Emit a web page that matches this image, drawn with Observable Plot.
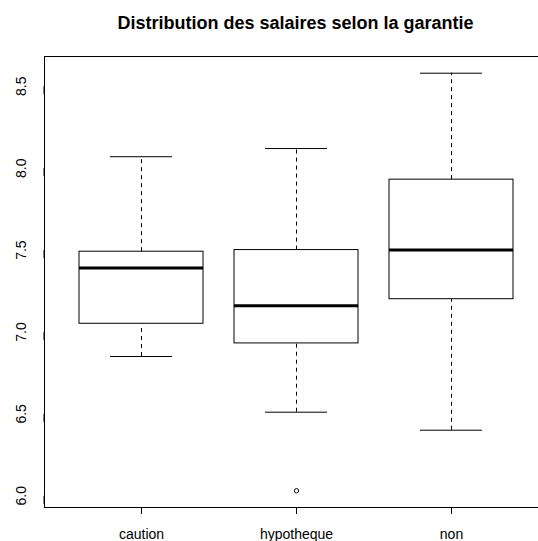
<!DOCTYPE html>
<html><head><meta charset="utf-8">
<script src="https://cdn.jsdelivr.net/npm/d3@7"></script>
<script src="https://cdn.jsdelivr.net/npm/@observablehq/plot@0.6"></script>
<style>body{margin:0;background:#fff;overflow:hidden;} svg{font-family:"Liberation Sans",Arial,sans-serif;}</style>
</head><body><div id="chart"></div>
<script>
const title = "Distribution des salaires selon la garantie";
const categories = ["caution", "hypotheque", "non"];
const lowerWhisker = [6.85, 6.51, 6.40];
const q1 = [7.05, 6.93, 7.20];
const median = [7.39, 7.16, 7.50];
const q3 = [7.49, 7.50, 7.93];
const upperWhisker = [8.07, 8.12, 8.58];
const outlierCategory = ["hypotheque"];
const outlierValue = [6.03];
const yTicks = [6.0, 6.5, 7.0, 7.5, 8.0, 8.5];

const boxes = categories.map((c, i) => ({c, lo: lowerWhisker[i], q1: q1[i], med: median[i], q3: q3[i], hi: upperWhisker[i]}));
const outliers = outlierCategory.map((c, i) => ({c, v: outlierValue[i]}));

// R-style 4% range extension
const allVals = [...lowerWhisker, ...upperWhisker, ...outlierValue];
const dMin = d3.min(allVals), dMax = d3.max(allVals);
const ext = (dMax - dMin) * 0.04;

const plot = Plot.plot({
  width: 538, height: 541,
  marginLeft: 44, marginRight: 0, marginTop: 56, marginBottom: 34,
  x: {type: "band", domain: categories, range: [44, 547.5], paddingInner: 0.2, paddingOuter: 0.22, align: 0.5},
  y: {domain: [dMin - ext, dMax + ext]},
  style: {fontFamily: '"Liberation Sans", Arial, sans-serif', fontSize: "14px", color: "black", background: "white"},
  marks: [
    Plot.frame({insetRight: -20, stroke: "black"}),
    Plot.axisY({ticks: yTicks, tickFormat: d3.format(".1f"), tickSize: 8, tickPadding: 15, rotate: -90, textAnchor: "middle", label: null, fontSize: 14, stroke: "black"}),
    Plot.axisX({tickSize: 7, tickPadding: 15, label: null, fontSize: 14}),
    Plot.ruleX(boxes, {x: "c", y1: "q3", y2: "hi", strokeDasharray: "4,4", stroke: "black"}),
    Plot.ruleX(boxes, {x: "c", y1: "lo", y2: "q1", strokeDasharray: "4,4", stroke: "black"}),
    Plot.tickY(boxes, {x: "c", y: "hi", insetLeft: 31, insetRight: 31, stroke: "black"}),
    Plot.tickY(boxes, {x: "c", y: "lo", insetLeft: 31, insetRight: 31, stroke: "black"}),
    Plot.barY(boxes, {x: "c", y1: "q1", y2: "q3", fill: "white", stroke: "black"}),
    Plot.tickY(boxes, {x: "c", y: "med", strokeWidth: 3, stroke: "black"}),
    Plot.dot(outliers, {x: "c", y: "v", r: 2.2, stroke: "black", strokeWidth: 1, fill: "none"}),
    Plot.text([title], {frameAnchor: "top", lineAnchor: "middle", dy: -33, dx: 4, fontSize: 18, fontWeight: "bold", fill: "black"})
  ]
});
document.getElementById("chart").appendChild(plot);
</script>
</body></html>
